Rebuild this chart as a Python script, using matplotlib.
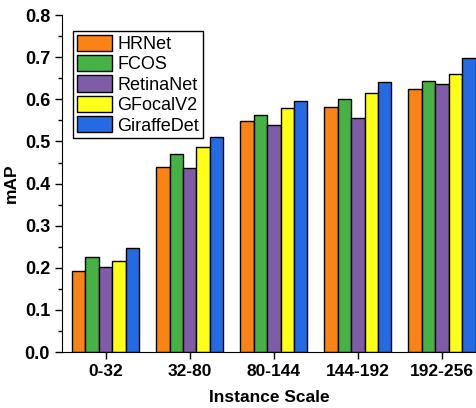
import numpy as np
import matplotlib
matplotlib.use("Agg")
import matplotlib.pyplot as plt
from matplotlib.ticker import MultipleLocator

# data
scales = ["0-32", "32-80", "80-144", "144-192", "192-256"]
methods = ["HRNet", "FCOS", "RetinaNet", "GFocalV2", "GiraffeDet"]
hrnet = [0.192, 0.439, 0.549, 0.582, 0.625]
fcos = [0.226, 0.470, 0.562, 0.602, 0.644]
retina = [0.201, 0.438, 0.540, 0.556, 0.637]
gfocal = [0.217, 0.486, 0.580, 0.615, 0.660]
giraffe = [0.248, 0.511, 0.597, 0.640, 0.698]
colors = ["#FB8214", "#46B145", "#805BA7", "#FFFF1A", "#246BE3"]

plt.rcParams["font.family"] = ["Liberation Sans", "DejaVu Sans"]

fig = plt.figure(figsize=(4.76, 4.08), dpi=100)
ax = fig.add_axes([0.130, 0.137, 0.870, 0.826])

x = np.arange(len(scales))
w = 0.16
series = [hrnet, fcos, retina, gfocal, giraffe]
for i, (vals, name, c) in enumerate(zip(series, methods, colors)):
    ax.bar(x + (i - 2) * w, vals, w, color=c, edgecolor="black",
           linewidth=1.0, label=name)

ax.set_xlim(-0.52, 4.405)
ax.set_ylim(0, 0.8)
ax.set_xticks(x)
ax.set_xticklabels(scales, fontsize=12.5, fontweight="bold")
ax.yaxis.set_major_locator(MultipleLocator(0.1))
ax.yaxis.set_minor_locator(MultipleLocator(0.05))
ax.set_yticklabels([f"{v:.1f}" for v in ax.get_yticks()],
                   fontsize=13, fontweight="bold")
ax.tick_params(axis="both", which="major", direction="out", length=5, width=1)
ax.tick_params(axis="y", which="minor", direction="out", length=3, width=1)
ax.spines["top"].set_visible(False)
ax.spines["right"].set_visible(False)

ax.set_xlabel("Instance Scale", fontsize=12.5, fontweight="bold", labelpad=8)
ax.set_ylabel("mAP", fontsize=12.5, fontweight="bold", labelpad=4)

leg = ax.legend(loc="upper left", bbox_to_anchor=(0.027, 0.953), fontsize=13,
                handlelength=1.95, handleheight=1.0, handletextpad=0.3,
                labelspacing=0.12, borderpad=0.2, borderaxespad=0,
                fancybox=False, edgecolor="black", framealpha=1)
leg.get_frame().set_linewidth(1.0)

fig.savefig("out.png", dpi=100)
